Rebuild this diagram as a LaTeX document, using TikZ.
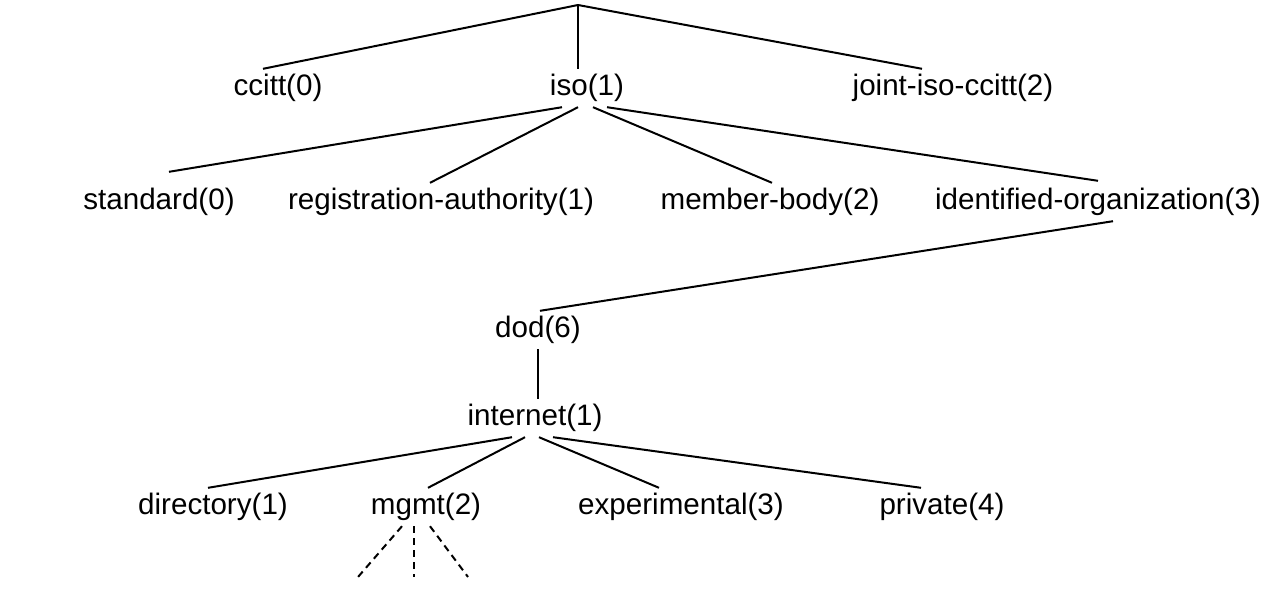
\documentclass[tikz,border=0pt]{standalone}
\usepackage{fontspec}
\setmainfont{Liberation Sans}
\usetikzlibrary{positioning,calc}

\begin{document}
\begin{tikzpicture}[x=1pt, y=-1pt,
    oid/.style={anchor=base, inner sep=0pt, text height=26pt, text depth=12pt,
        font=\fontsize{29.6}{35}\selectfont},
    branch/.style={line width=2pt},
    more/.style={line width=2pt, dash pattern=on 7pt off 5pt}]
    \useasboundingbox (0,0) rectangle (1266,613);

    % top level
    \coordinate (root) at (578,5);
    \node[oid] (ccitt) at (278,95) {ccitt(0)};
    \node[oid] (iso) at (587,95) {iso(1)};
    \node[oid] (joint) at (953,95) {joint-iso-ccitt(2)};

    \draw[branch] (root) -- ([xshift=-15pt]ccitt.north);
    \draw[branch] (root) -- ([xshift=-9pt]iso.north);
    \draw[branch] (root) -- ([xshift=-31pt]joint.north);

    % under iso
    \node[oid] (standard) at (159,209) {standard(0)};
    \node[oid] (regauth) at (441,209) {registration-authority(1)};
    \node[oid] (member) at (770,209) {member-body(2)};
    \node[oid] (identorg) at (1098,209) {identified-organization(3)};

    \draw[branch] ([xshift=-25pt]iso.south) -- ([xshift=10pt,yshift=11pt]standard.north);
    \draw[branch] ([xshift=-9pt]iso.south) -- ([xshift=-11pt]regauth.north);
    \draw[branch] ([xshift=6pt]iso.south) -- ([xshift=2pt]member.north);
    \draw[branch] ([xshift=20pt]iso.south) -- ([yshift=2pt]identorg.north);

    % dod and internet
    \node[oid] (dod) at (538,337) {dod(6)};
    \node[oid] (internet) at (535,425) {internet(1)};

    \draw[branch] ([xshift=15pt]identorg.south) -- ([xshift=2pt]dod.north);
    \draw[branch] (dod.south) -- (dod.south |- internet.north);

    % under internet
    \node[oid] (directory) at (213,514) {directory(1)};
    \node[oid] (mgmt) at (426,514) {mgmt(2)};
    \node[oid] (experimental) at (681,514) {experimental(3)};
    \node[oid] (private) at (942,514) {private(4)};

    \draw[branch] ([xshift=-23pt]internet.south) -- ([xshift=-5pt]directory.north);
    \draw[branch] ([xshift=-10pt]internet.south) -- ([xshift=2pt]mgmt.north);
    \draw[branch] ([xshift=4pt]internet.south) -- ([xshift=-22pt]experimental.north);
    \draw[branch] ([xshift=18pt]internet.south) -- ([xshift=-21pt]private.north);

    % further below mgmt
    \coordinate (sub1) at (358,577);
    \coordinate (sub2) at (414,577);
    \coordinate (sub3) at (468,577);
    \draw[more] ([xshift=-24pt]mgmt.south) -- (sub1);
    \draw[more] ([xshift=-12pt]mgmt.south) -- (sub2);
    \draw[more] ([xshift=4pt]mgmt.south) -- (sub3);
\end{tikzpicture}
\end{document}
